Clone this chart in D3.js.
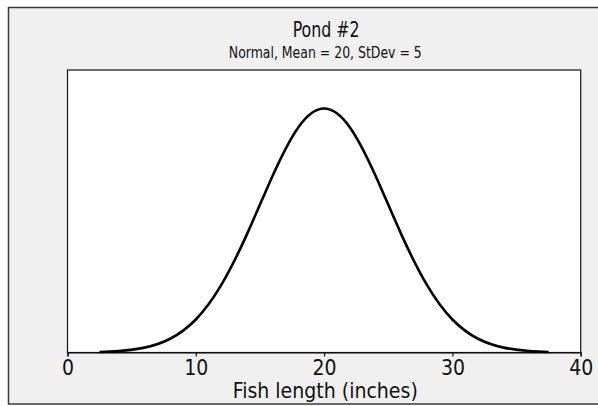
<!DOCTYPE html>
<html>
<head>
<meta charset="utf-8">
<script src="https://cdn.jsdelivr.net/npm/d3@7"></script>
<style>
  html, body { margin: 0; padding: 0; background: #ffffff; }
  svg { display: block; }
  text { font-family: "Liberation Sans Narrow", "Arial Narrow", "DejaVu Sans Condensed", sans-serif; fill: #111; }
</style>
</head>
<body>
<svg id="chart" width="598" height="406"></svg>
<script>
// Fish lengths (inches) and the density of the fitted normal curve at each one
const lengths = [2.5, 4, 6, 8, 10, 12, 14, 16, 18, 20, 22, 24, 26, 28, 30, 32, 34, 36, 37.5];
const density = [0.00017, 0.00048, 0.0016, 0.0045, 0.0108, 0.0222, 0.0388, 0.0579, 0.0737, 0.0798,
                 0.0737, 0.0579, 0.0388, 0.0222, 0.0108, 0.0045, 0.0016, 0.00048, 0.00017];
const xTicks = [0, 10, 20, 30, 40];
const titleText = "Pond #2";
const subtitleText = "Normal, Mean = 20, StDev = 5";
const xLabel = "Fish length (inches)";

const svg = d3.select("#chart");

// outer panel
svg.append("rect")
  .attr("x", 8.5).attr("y", 7.5)
  .attr("width", 600).attr("height", 396.5)
  .attr("fill", "#f0f0f0")
  .attr("stroke", "#3a3a3a").attr("stroke-width", 1.5);

const plot = { left: 67.5, right: 580.7, top: 70, bottom: 352.5 };

const x = d3.scaleLinear().domain([0, 40]).range([plot.left, plot.right]);
const y = d3.scaleLinear().domain([0, 0.0924]).range([plot.bottom, plot.top]);

// plot area
svg.append("rect")
  .attr("x", plot.left).attr("y", plot.top)
  .attr("width", plot.right - plot.left).attr("height", plot.bottom - plot.top)
  .attr("fill", "#ffffff")
  .attr("stroke", "#111").attr("stroke-width", 1.2);

// x axis
const axis = svg.append("g")
  .attr("transform", `translate(0,${plot.bottom})`)
  .call(d3.axisBottom(x).tickValues(xTicks).tickFormat(d3.format("d")).tickSize(4).tickPadding(4));
axis.select(".domain").attr("stroke", "#111").attr("stroke-width", 1.2);
axis.selectAll(".tick line").attr("stroke", "#111").attr("stroke-width", 1.2);
axis.selectAll(".tick text")
  .attr("font-family", "Liberation Sans Narrow, Arial Narrow, DejaVu Sans Condensed, sans-serif")
  .attr("font-size", 21).attr("fill", "#111");

// density curve
const line = d3.line()
  .x((d, i) => x(lengths[i]))
  .y(d => y(d))
  .curve(d3.curveNatural);

svg.append("path")
  .datum(density)
  .attr("d", line)
  .attr("fill", "none")
  .attr("stroke", "#000")
  .attr("stroke-width", 2.6);

// titles (condensed to the narrow face's set width)
svg.append("text")
  .attr("x", 326.2).attr("y", 36.5)
  .attr("text-anchor", "middle")
  .attr("font-size", 22)
  .attr("textLength", 67)
  .attr("lengthAdjust", "spacingAndGlyphs")
  .text(titleText);

svg.append("text")
  .attr("x", 325.3).attr("y", 58.3)
  .attr("text-anchor", "middle")
  .attr("font-size", 16)
  .attr("textLength", 193)
  .attr("lengthAdjust", "spacingAndGlyphs")
  .text(subtitleText);

svg.append("text")
  .attr("x", 325.3).attr("y", 398.3)
  .attr("text-anchor", "middle")
  .attr("font-size", 21)
  .attr("textLength", 185)
  .attr("lengthAdjust", "spacingAndGlyphs")
  .text(xLabel);
</script>
</body>
</html>
